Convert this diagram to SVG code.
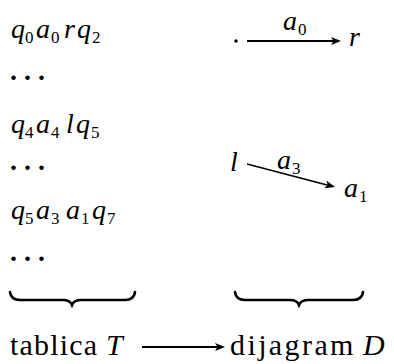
<svg xmlns="http://www.w3.org/2000/svg" width="394" height="364" viewBox="0 0 394 364">
<defs>
<path id="head" d="M-10,-4 L0,0 L-10,4 L-7.5,0 Z" fill="#000"/>
</defs>
<g id="table" font-family="Liberation Serif" fill="#000">
<text font-style="italic" font-size="28" y="38"><tspan x="11">q</tspan><tspan font-style="normal" font-size="17" x="25" dy="5">0</tspan><tspan x="36" dy="-5">a</tspan><tspan font-style="normal" font-size="17" x="51" dy="5">0</tspan><tspan x="64" dy="-5">r</tspan><tspan x="77">q</tspan><tspan font-style="normal" font-size="17" x="92" dy="5">2</tspan></text>
<text font-weight="bold" font-size="28" x="10" y="80" letter-spacing="7">...</text>
<text font-style="italic" font-size="28" y="133"><tspan x="11">q</tspan><tspan font-style="normal" font-size="17" x="25" dy="5">4</tspan><tspan x="36" dy="-5">a</tspan><tspan font-style="normal" font-size="17" x="51" dy="5">4</tspan><tspan x="66" dy="-5">l</tspan><tspan x="76">q</tspan><tspan font-style="normal" font-size="17" x="91" dy="5">5</tspan></text>
<text font-weight="bold" font-size="28" x="10" y="170" letter-spacing="7">...</text>
<text font-style="italic" font-size="28" y="219"><tspan x="11">q</tspan><tspan font-style="normal" font-size="17" x="25" dy="5">5</tspan><tspan x="36" dy="-5">a</tspan><tspan font-style="normal" font-size="17" x="51" dy="5">3</tspan><tspan x="66" dy="-5">a</tspan><tspan font-style="normal" font-size="17" x="81" dy="5">1</tspan><tspan x="92" dy="-5">q</tspan><tspan font-style="normal" font-size="17" x="107" dy="5">7</tspan></text>
<text font-weight="bold" font-size="28" x="10" y="261" letter-spacing="7">...</text>
<path fill="none" stroke="#000" stroke-width="2.6" stroke-linecap="round" d="M10,292 Q11,300 20,300 L63,300 Q70,300 72,305 Q74,300 81,300 L125,300 Q134,300 135,292"/>
</g>
<g id="diagram" font-family="Liberation Serif" fill="#000">
<circle cx="236" cy="41" r="1.8"/>
<text font-style="italic" font-size="28" y="30"><tspan x="283">a</tspan><tspan font-style="normal" font-size="17" x="298" dy="5">0</tspan></text>
<text font-style="italic" font-size="28" x="349" y="46">r</text>
<text font-style="italic" font-size="28" x="230" y="171">l</text>
<text font-style="italic" font-size="28" y="169"><tspan x="277">a</tspan><tspan font-style="normal" font-size="17" x="292" dy="5">3</tspan></text>
<text font-style="italic" font-size="28" y="197"><tspan x="344">a</tspan><tspan font-style="normal" font-size="17" x="359" dy="5">1</tspan></text>
<path fill="none" stroke="#000" stroke-width="2.6" stroke-linecap="round" d="M235,292 Q236,300 245,300 L290,300 Q297,300 299,305 Q301,300 308,300 L353,300 Q362,300 363,292"/>
</g>
<g id="labels" font-family="Liberation Serif" fill="#000">
<text font-size="30" x="10" y="355"><tspan letter-spacing="1.2">tablica</tspan><tspan font-style="italic" x="106">T</tspan></text>
<text font-size="30" x="230" y="355"><tspan letter-spacing="2.4">dijagram</tspan><tspan font-style="italic" x="363">D</tspan></text>
</g>
<g id="connectors" stroke="#000" stroke-width="2">
<line x1="247" y1="41" x2="334" y2="41"/>
<use href="#head" transform="translate(341,41)" stroke="none"/>
<line x1="247" y1="164" x2="329" y2="185.5" stroke-width="1.6"/>
<use href="#head" transform="translate(335,187) rotate(14.6)" stroke="none"/>
<line x1="142" y1="347" x2="218" y2="347"/>
<use href="#head" transform="translate(225,347)" stroke="none"/>
</g>
</svg>
